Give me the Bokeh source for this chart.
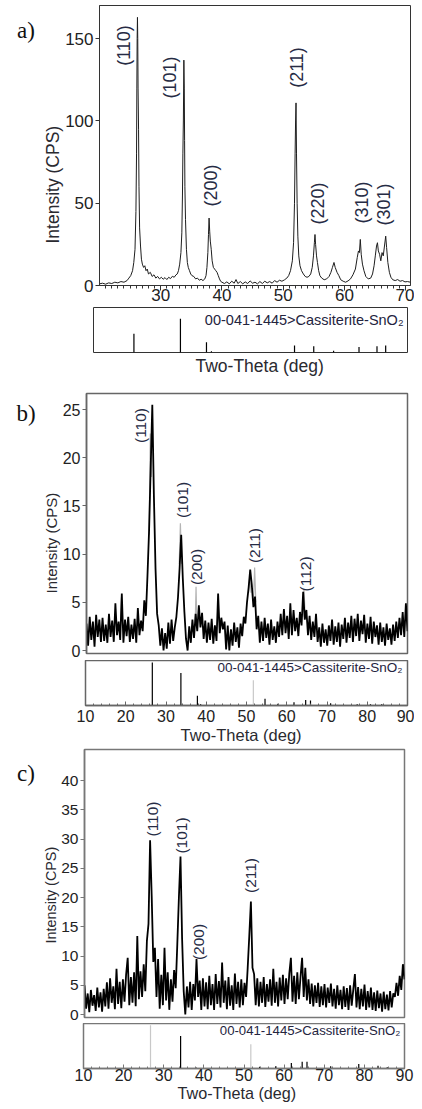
import math
from bokeh.plotting import figure
from bokeh.layouts import column, row
from bokeh.models import Range1d, FixedTicker, Label, ColumnDataSource, Title
from bokeh.embed import file_html
from bokeh.resources import INLINE

# ------------------------------------------------------------------ data
# a) measured pattern: two-theta (deg) and intensity (CPS)
A_THETA = [20.0, 20.5, 21.0, 21.5, 22.0, 22.5, 23.0, 23.5, 24.0, 24.5,
           24.8, 25.1, 25.4, 25.6, 25.8, 25.95, 26.05, 26.1, 26.15, 26.2,
           26.25, 26.3, 26.38, 26.45, 26.55, 26.7, 26.85, 27.0, 27.2, 27.4,
           27.6, 27.8, 28.0, 28.3, 28.6, 28.9, 29.2, 29.5, 29.8, 30.1,
           30.4, 30.7, 31.0, 31.3, 31.6, 31.9, 32.2, 32.5, 32.7, 32.9,
           33.1, 33.3, 33.45, 33.55, 33.62, 33.7, 33.78, 33.85, 33.9, 33.95,
           34.05, 34.2, 34.35, 34.5, 34.7, 34.9, 35.1, 35.4, 35.7, 36.0,
           36.3, 36.6, 36.9, 37.2, 37.4, 37.55, 37.7, 37.8, 37.9, 38.0,
           38.1, 38.25, 38.4, 38.6, 38.8, 39.0, 39.2, 39.4, 39.6, 39.8,
           40.0, 40.4, 40.8, 41.2, 41.6, 42.0, 42.3, 42.6, 43.0, 43.4,
           43.8, 44.2, 44.6, 45.0, 45.4, 45.8, 46.2, 46.6, 47.0, 47.4,
           47.8, 48.2, 48.6, 49.0, 49.4, 49.8, 50.2, 50.6, 50.9, 51.2,
           51.5, 51.7, 51.85, 51.95, 52.03, 52.1, 52.18, 52.28, 52.4, 52.55,
           52.75, 53.0, 53.3, 53.6, 53.9, 54.2, 54.5, 54.75, 54.95, 55.1,
           55.2, 55.3, 55.45, 55.6, 55.8, 56.0, 56.3, 56.7, 57.1, 57.5,
           57.8, 58.05, 58.3, 58.5, 58.8, 59.1, 59.4, 59.8, 60.2, 60.6,
           61.0, 61.4, 61.8, 62.1, 62.3, 62.45, 62.6, 62.75, 62.95, 63.2,
           63.5, 63.9, 64.3, 64.6, 64.85, 65.05, 65.25, 65.4, 65.55, 65.75,
           65.95, 66.15, 66.35, 66.55, 66.75, 66.9, 67.1, 67.35, 67.6, 67.9,
           68.3, 68.7, 69.1, 69.5, 69.9, 70.3, 70.8]
A_CPS = [1.0, 1.4, 0.8, 1.6, 1.2, 2.0, 1.6, 2.4, 2.0, 3.0,
         4.5, 6.0, 9.0, 14.0, 22.0, 45.0, 80.0, 120.0, 150.0, 163.0,
         150.0, 120.0, 95.0, 60.0, 35.0, 24.0, 16.0, 13.0, 11.0, 12.0,
         9.0, 10.0, 7.0, 8.0, 5.5, 6.5, 4.5, 5.5, 4.0, 5.0,
         3.8, 4.8, 3.6, 5.0, 4.2, 5.6, 5.0, 6.5, 7.0, 9.0,
         13.0, 20.0, 32.0, 55.0, 80.0, 100.0, 137.0, 120.0, 88.0, 60.0,
         40.0, 22.0, 14.0, 11.0, 9.0, 7.0, 6.0, 5.5, 4.0, 4.5,
         3.2, 3.8, 3.0, 4.0, 6.0, 11.0, 20.0, 31.0, 41.0, 33.0,
         27.0, 22.0, 15.0, 11.0, 10.0, 9.0, 8.0, 6.0, 4.0, 2.5,
         2.0, 1.2, 2.2, 1.0, 2.6, 1.4, 3.6, 1.2, 2.4, 1.0,
         2.2, 1.2, 2.8, 1.4, 2.0, 1.0, 2.4, 1.2, 2.6, 1.6,
         2.4, 1.4, 3.0, 2.0, 3.2, 2.6, 3.4, 4.5, 6.0, 9.0,
         15.0, 26.0, 50.0, 80.0, 100.0, 111.0, 80.0, 50.0, 30.0, 18.0,
         12.0, 9.0, 7.0, 5.5, 5.0, 5.5, 7.0, 11.0, 18.0, 26.0,
         31.0, 25.0, 18.0, 14.0, 9.0, 6.0, 4.5, 3.5, 4.0, 5.5,
         8.0, 11.0, 14.0, 11.0, 8.0, 6.0, 3.5, 2.6, 2.0, 2.8,
         4.0, 6.5, 10.0, 17.0, 21.0, 20.0, 28.0, 19.0, 13.0, 9.0,
         5.5, 4.0, 4.5, 7.0, 12.0, 18.0, 24.0, 26.0, 21.0, 19.0,
         15.0, 20.0, 18.0, 24.0, 30.0, 23.0, 14.0, 8.0, 5.0, 3.5,
         3.0, 3.6, 2.6, 3.0, 2.2, 2.4, 2.0]
# a) reference card lines (relative intensity, %)
A_REF_THETA = [26.2, 33.7, 37.9, 38.7, 52.1, 55.2, 58.4, 62.5, 65.4, 66.8]
A_REF_INT = [41.5, 75.0, 23.0, 3.0, 15.6, 14.0, 4.0, 12.0, 14.0, 15.6]

# b) measured pattern on a regular 0.4 deg grid starting at 10 deg
B_THETA_START = 10.0
B_THETA_STEP = 0.4
B_CPS = [2.8, 0.5, 3.5, 1.1, 3.0, 0.4, 3.7, 1.4, 3.2, 0.9,
         3.4, 1.0, 2.7, 0.8, 3.8, 1.4, 3.1, 0.9, 4.9, 1.6,
         3.0, 1.1, 5.9, 0.8, 3.2, 1.5, 3.5, 0.9, 2.7, 1.2,
         3.3, 0.8, 4.4, 1.6, 3.1, 2.0, 5.2, 3.6, 7.8, 12.5,
         19.0, 25.5, 16.0, 8.5, 3.8, 2.6, 0.5, 2.3, 0.0, 1.8,
         0.2, 2.9, 0.7, 3.2, 1.0, 2.4, 3.5, 5.5, 8.5, 12.0,
         7.5, 4.0, 1.2, 0.0, 2.5, 0.8, 3.2, 1.3, 3.8, 2.0,
         4.7, 2.4, 3.9, 1.2, 3.1, 0.8, 2.9, 1.1, 3.3, 0.7,
         2.6, 1.0, 5.9, 1.8, 3.4, 2.2, 3.0, 0.1, 2.6, 0.0,
         2.2, 0.5, 2.9, 0.9, 2.4, 0.3, 2.8, 1.5, 3.5, 2.8,
         5.0, 6.5, 8.4, 6.8, 4.5, 5.6, 2.2, 3.6, 0.8, 3.0,
         1.0, 3.4, 1.3, 2.8, 0.6, 3.2, 1.1, 2.5, 0.8, 3.0,
         1.4, 3.8, 1.6, 4.3, 1.8, 3.6, 1.2, 4.9, 1.6, 4.2,
         2.0, 3.4, 1.5, 4.0, 2.6, 6.1, 3.2, 4.2, 1.6, 3.6,
         1.1, 3.0, 1.4, 3.8, 0.9, 2.4, 0.4, 2.8, 0.8, 2.2,
         0.5, 2.6, 1.0, 3.2, 0.6, 2.5, 0.9, 2.9, 0.4, 2.7,
         1.2, 3.4, 0.8, 2.9, 1.3, 3.6, 0.9, 3.3, 1.5, 3.8,
         1.0, 3.1, 1.7, 3.7, 0.8, 2.8, 1.2, 3.5, 0.7, 3.0,
         1.4, 2.6, 0.6, 2.9, 0.9, 2.4, 0.5, 2.8, 1.1, 2.3,
         0.6, 2.7, 1.0, 3.0, 1.3, 3.4, 1.6, 4.0, 1.4, 4.9,
         2.0]
# b) lighter raw-count spikes that show above the smoothed trace
B_RAW_THETA = [[18.5, 18.7, 18.9], [25.6, 25.9, 26.2], [33.1, 33.4, 33.7],
               [37.1, 37.3, 37.5], [50.4, 50.7, 51.0], [51.6, 51.9, 52.2], [63.9, 64.2, 64.5]]
B_RAW_CPS = [[3.0, 5.5, 3.0], [12.0, 22.5, 18.0], [9.0, 13.2, 9.0],
             [3.0, 6.6, 3.0], [6.0, 7.8, 6.0], [5.0, 8.6, 5.0], [3.5, 6.4, 3.5]]
B_REF_THETA = [26.6, 33.7, 37.8, 38.6, 51.7, 54.6, 57.8, 61.8, 64.7, 65.9, 70.9, 77.5, 80.8, 83.6]
B_REF_INT = [95.6, 72.0, 21.5, 3.0, 56.0, 15.0, 4.0, 7.0, 12.0, 11.0, 5.0, 3.0, 3.0, 3.0]

# c) measured pattern on a regular 0.4 deg grid starting at 10 deg
C_THETA_START = 10.0
C_THETA_STEP = 0.4
C_CPS = [5.0, 1.0, 3.6, 0.4, 4.2, 1.5, 3.3, 0.6, 4.6, 1.2,
         3.8, 0.5, 4.4, 1.4, 5.5, 1.0, 6.2, 2.0, 4.8, 0.9,
         7.8, 1.8, 5.6, 1.1, 6.0, 2.2, 6.8, 9.7, 1.6, 6.4,
         2.0, 7.2, 1.4, 13.4, 2.6, 7.4, 3.0, 8.6, 4.0, 12.6,
         15.5, 29.8, 20.2, 9.0, 11.4, 3.0, 9.5, 1.0, 6.8, 1.6,
         11.4, 2.4, 7.2, 0.8, 6.0, 2.2, 7.6, 4.5, 12.0, 20.0,
         27.0, 13.0, 4.0, 0.0, 4.8, 1.2, 5.6, 0.8, 5.2, 2.4,
         9.5, 3.0, 5.8, 0.8, 6.2, 1.4, 5.5, 0.9, 6.6, 1.6,
         5.2, 0.8, 6.9, 1.8, 5.7, 1.2, 8.9, 2.0, 5.8, 0.9,
         6.4, 1.5, 5.0, 0.8, 7.0, 1.8, 5.6, 1.2, 6.0, 1.6,
         5.4, 3.0, 8.0, 13.5, 19.3, 8.0, 6.9, 1.6, 6.2, 1.4,
         5.6, 2.0, 6.4, 1.3, 5.2, 2.2, 6.0, 1.5, 7.8, 2.0,
         5.6, 1.4, 6.3, 2.4, 6.8, 1.8, 6.2, 2.6, 7.0, 9.7,
         2.2, 6.6, 1.8, 7.2, 2.6, 6.4, 9.7, 3.0, 8.0, 2.4,
         6.0, 1.8, 5.3, 1.4, 5.0, 2.0, 5.4, 1.3, 4.8, 1.6,
         5.2, 1.2, 4.6, 2.0, 5.3, 1.4, 4.4, 1.0, 5.0, 1.6,
         4.2, 0.9, 4.8, 1.3, 4.5, 0.8, 5.0, 1.5, 4.3, 6.9,
         1.2, 4.7, 0.9, 4.4, 1.4, 5.1, 0.8, 4.0, 1.2, 4.6,
         0.8, 3.8, 0.6, 4.1, 1.1, 3.6, 0.5, 3.9, 0.9, 3.4,
         0.7, 4.0, 1.2, 3.6, 3.0, 5.4, 3.2, 6.6, 4.2, 8.6,
         6.0]
C_REF_THETA = [26.7, 34.2, 38.0, 51.7, 53.9, 57.9, 61.8, 64.5, 65.7, 71.6, 78.6, 83.4, 85.7]
C_REF_INT = [96.0, 72.0, 3.0, 54.0, 4.0, 5.0, 12.0, 15.0, 15.0, 5.0, 10.0, 6.0, 3.0]

HKL_A = ["(110)", "(101)", "(200)", "(211)", "(220)", "(310)", "(301)"]
HKL_B = ["(110)", "(101)", "(200)", "(211)", "(112)"]
HKL_C = ["(110)", "(101)", "(200)", "(211)"]
CARD = "00-041-1445>Cassiterite-SnO\u2082"
X_TITLE = "Two-Theta (deg)"
Y_TITLE = "Intensity (CPS)"
PANELS = ["a)", "b)", "c)"]

# ------------------------------------------------------------------ styling
SANS = "Liberation Sans"
SERIF = "Liberation Serif"
INK = "#222222"
HKL_INK = "#262b44"
CARD_INK = "#24243e"
TITLE_INK = "#2a2a30"
LIGHT = "#c8c8c8"
RAW = "#b4b4b4"
TOTAL_W = 414
LAB_W = 40
UP = math.pi / 2


def base_fig(width, height, xr, yr, left, right, top, bottom, xloc=None, yloc=None,
             outline="#333333", outline_w=1.0):
    p = figure(width=width, height=height, x_range=Range1d(*xr), y_range=Range1d(*yr),
               output_backend="svg", toolbar_location=None,
               x_axis_location=xloc, y_axis_location=yloc,
               min_border_left=left, min_border_right=right,
               min_border_top=top, min_border_bottom=bottom)
    for g in p.grid:
        g.visible = False
    p.outline_line_color = outline
    p.outline_line_width = outline_w
    p.background_fill_color = "white"
    p.border_fill_color = "white"
    return p


def blank_fig(width, height):
    return base_fig(width, height, (0, width), (height, 0), 0, 0, 0, 0, outline=None)


def style_axis(ax, size, color, width):
    ax.axis_line_color = color
    ax.axis_line_width = width
    ax.major_tick_line_color = color
    ax.minor_tick_line_color = color
    ax.major_label_text_font = SANS
    ax.major_label_text_font_size = size
    ax.major_label_text_color = INK


def yaxis_setup(p, ticks, size, color, width):
    ax = p.yaxis[0]
    ax.ticker = FixedTicker(ticks=ticks, minor_ticks=[])
    style_axis(ax, size, color, width)
    ax.major_tick_in = 0
    ax.major_tick_out = 4
    ax.major_label_standoff = 2


def y_title(p, size, offset):
    p.add_layout(Title(text=Y_TITLE, align="left", offset=offset, standoff=0,
                       text_font=SANS, text_font_size=size, text_font_style="normal",
                       text_color=TITLE_INK), "left")


def x_title(p, size, offset, standoff):
    p.add_layout(Title(text=X_TITLE, align="left", offset=offset, standoff=standoff,
                       vertical_align="top",
                       text_font=SANS, text_font_size=size, text_font_style="normal",
                       text_color=TITLE_INK), "below")


def text(p, x, y, s, size, font=SANS, color=HKL_INK, angle=0.0, align="center"):
    p.add_layout(Label(x=x, y=y, text=s, text_font=font, text_font_size=size,
                       text_color=color, angle=angle, text_align=align,
                       text_baseline="middle"))


def sticks(p, xs, hs, colors):
    src = ColumnDataSource(dict(x=xs, h=hs, z=[0.0] * len(xs), c=colors))
    p.segment(x0="x", y0="z", x1="x", y1="h", line_color="c", line_width=1.2, source=src)


def x_sticks_axis(p, size, color, standoff):
    ax = p.xaxis[0]
    ax.ticker = FixedTicker(ticks=list(range(10, 91, 10)), minor_ticks=list(range(12, 90, 2)))
    style_axis(ax, size, color, 1.5)
    ax.major_tick_in = 4
    ax.major_tick_out = 0
    ax.minor_tick_in = 2
    ax.minor_tick_out = 0
    ax.major_label_standoff = standoff


# ------------------------------------------------------------------ panel a
H_A = 307
la = blank_fig(LAB_W, H_A)
text(la, 25.5, 27.5, PANELS[0], "23px", font=SERIF, color="#111111")

fa = base_fig(TOTAL_W - LAB_W, H_A, (20.0, 70.8), (0.0, 170.2), 55, 4, 5, 22,
              xloc="below", yloc="left")
fa.line(A_THETA, A_CPS, line_color="#1e1e1e", line_width=1.0)
xa = fa.xaxis[0]
xa.ticker = FixedTicker(ticks=[30, 40, 50, 60, 70], minor_ticks=list(range(21, 71)))
style_axis(xa, "17px", "#333333", 1.0)
xa.major_tick_in = 0
xa.major_tick_out = 5
xa.minor_tick_in = 0
xa.minor_tick_out = 3
xa.major_label_standoff = -2
yaxis_setup(fa, [0, 50, 100, 150], "17px", "#333333", 1.0)
y_title(fa, "17.5px", 42)
for name, (x, y) in zip(HKL_A, [(24.03, 145.9), (31.45, 126.5), (38.23, 60.8), (52.26, 132.5),
                                (55.73, 49.9), (62.82, 50.5), (66.53, 49.2)]):
    text(fa, x, y, name, "18px", angle=UP)

sa = base_fig(TOTAL_W, 78, (19.68, 70.32), (0.0, 100.0), 93, 7, 0, 33)
sticks(sa, A_REF_THETA, A_REF_INT, ["black"] * len(A_REF_THETA))
text(sa, 69.68, 73.3, CARD, "14.5px", color=CARD_INK, align="right")
x_title(sa, "17.5px", 102, 6)

# ------------------------------------------------------------------ panel b
H_B = 275
lb = blank_fig(LAB_W, H_B)
text(lb, 25.5, 21.5, PANELS[1], "23px", font=SERIF, color="#111111")

b_theta = [B_THETA_START + B_THETA_STEP * i for i in range(len(B_CPS))]
fb = base_fig(TOTAL_W - LAB_W, H_B, (10.0, 90.0), (-0.31, 26.66), 45, 7, 8, 7, yloc="left",
              outline="#666666", outline_w=1.5)
fb.multi_line(B_RAW_THETA, B_RAW_CPS, line_color=RAW, line_width=1.2)
fb.line(b_theta, B_CPS, line_color="black", line_width=1.8)
yaxis_setup(fb, [0, 5, 10, 15, 20, 25], "16px", "#666666", 1.5)
y_title(fb, "15px", 60)
for name, (x, y) in zip(HKL_B, [(23.54, 23.34), (33.85, 15.61), (37.33, 8.66), (51.86, 10.89),
                                (64.66, 7.94)]):
    text(fb, x, y, name, "15.5px", angle=UP)

sb = base_fig(TOTAL_W, 88, (10.0, 90.0), (0.0, 100.0), 85, 7, 0, 43,
              xloc="below", outline="#666666", outline_w=1.5)
sticks(sb, B_REF_THETA, B_REF_INT,
       [LIGHT if i == 4 else "black" for i in range(len(B_REF_THETA))])
x_sticks_axis(sb, "16px", "#666666", 4)
text(sb, 88.76, 84.4, CARD, "13.5px", color=CARD_INK, align="right")
x_title(sb, "16.5px", 95, 2)

# ------------------------------------------------------------------ panel c
H_C = 275
lc = blank_fig(LAB_W, H_C)
text(lc, 25.5, 25, PANELS[2], "23px", font=SERIF, color="#111111")

c_theta = [C_THETA_START + C_THETA_STEP * i for i in range(len(C_CPS))]
fc = base_fig(TOTAL_W - LAB_W, H_C, (10.0, 90.0), (-0.51, 45.3), 43, 10, 1, 6, yloc="left",
              outline="#777777", outline_w=1.5)
fc.line(c_theta, C_CPS, line_color="black", line_width=1.8)
yaxis_setup(fc, [0, 5, 10, 15, 20, 25, 30, 35, 40], "15.5px", "#777777", 1.5)
y_title(fc, "14.4px", 74)
for name, (x, y) in zip(HKL_C, [(26.95, 33.42), (34.30, 30.60), (38.54, 12.39), (51.50, 23.76)]):
    text(fc, x, y, name, "15.5px", angle=UP)

scc = base_fig(TOTAL_W, 82, (10.0, 90.0), (0.0, 100.0), 83, 10, 0, 37,
               xloc="below", outline="#777777", outline_w=1.5)
sticks(scc, C_REF_THETA, C_REF_INT,
       [LIGHT if i in (0, 3) else "black" for i in range(len(C_REF_THETA))])
x_sticks_axis(scc, "16px", "#777777", 0)
text(scc, 89.0, 84.4, CARD, "13.2px", color=CARD_INK, align="right")
x_title(scc, "16.2px", 94, 0)

# each panel is its own column, so the three card strips are not aligned with each other
panel_a = column(row(la, fa, spacing=0), sa, spacing=0)
panel_b = column(row(lb, fb, spacing=0), sb, spacing=0)
panel_c = column(row(lc, fc, spacing=0), scc, spacing=0)
layout = column(panel_a, panel_b, panel_c, spacing=0)
open("out.html", "w").write(file_html(layout, INLINE))
